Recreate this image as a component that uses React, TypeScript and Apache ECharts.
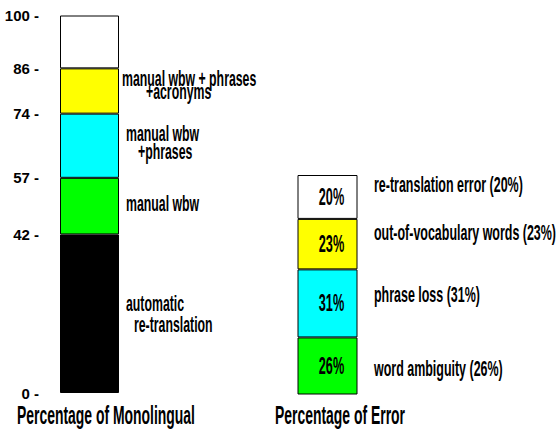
import React, { useEffect, useRef } from "react";
import * as echarts from "echarts";

// Left bar: Percentage of Monolingual (stacked from bottom)
const monoNames = [
  "automatic re-translation",
  "manual wbw",
  "manual wbw +phrases",
  "manual wbw + phrases +acronyms",
  "rest",
];
const monoValues = [42, 15, 17, 12, 14];
const monoColors = ["#000000", "#00ff00", "#00ffff", "#ffff00", "#ffffff"];
const monoTicks = [0, 42, 57, 74, 86, 100];

// Right bar: Percentage of Error (stacked from bottom)
const errorNames = [
  "word ambiguity",
  "phrase loss",
  "out-of-vocabulary words",
  "re-translation error",
];
const errorValues = [26, 31, 23, 20];
const errorColors = ["#00ff00", "#00ffff", "#ffff00", "#ffffff"];

const FONT = "'Liberation Sans', Arial, sans-serif";
const SX = 0.82;
const SY = 1.5;

function txt(text: string, x: number, y: number, size = 15, align = "left") {
  return {
    type: "text",
    x,
    y,
    z: 100,
    scaleX: SX,
    scaleY: SY,
    style: {
      text,
      fill: "#000",
      fontFamily: FONT,
      fontWeight: "bold",
      fontSize: size,
      align,
      verticalAlign: "middle",
    },
  };
}

export default function App() {
  const ref = useRef<HTMLDivElement>(null);
  useEffect(() => {
    document.body.style.margin = "0";
    if (!ref.current) return;
    const chart = echarts.init(ref.current, undefined, { renderer: "svg" });
    const series: any[] = [];
    monoValues.forEach((v, i) => {
      series.push({
        type: "bar",
        name: monoNames[i],
        stack: "mono",
        xAxisIndex: 0,
        yAxisIndex: 0,
        barWidth: "100%",
        data: [v],
        itemStyle: { color: monoColors[i], borderColor: "#000", borderWidth: 1 },
      });
    });
    errorValues.forEach((v, i) => {
      series.push({
        type: "bar",
        name: errorNames[i],
        stack: "err",
        xAxisIndex: 1,
        yAxisIndex: 1,
        barWidth: "100%",
        data: [v],
        itemStyle: { color: errorColors[i], borderColor: "#000", borderWidth: 1 },
      });
    });
    const staticTexts = [
      txt("manual wbw + phrases", 122, 78.5),
      txt("+acronyms", 146, 91.5),
      txt("manual wbw", 126, 133.5),
      txt("+phrases", 138, 152),
      txt("manual wbw", 126, 204),
      txt("automatic", 126, 303.5),
      txt("re-translation", 134, 325),
      txt("re-translation error (20%)", 374, 184, 15.2),
      txt("out-of-vocabulary words (23%)", 374, 232, 15.2),
      txt("phrase loss (31%)", 374, 294, 15.2),
      txt("word ambiguity (26%)", 374, 368, 15.2),
      txt("Percentage of Monolingual", 17, 415, 17),
      txt("Percentage of Error", 275, 415, 17),
    ];
    const baseOption: any = {
      animation: false,
      grid: [
        { left: 60, top: 15.5, width: 59, height: 377.5 },
        { left: 297.5, top: 175, width: 60, height: 219.5 },
      ],
      xAxis: [
        { type: "category", gridIndex: 0, data: [""], show: false },
        { type: "category", gridIndex: 1, data: [""], show: false },
      ],
      yAxis: [
        {
          type: "value",
          gridIndex: 0,
          min: 0,
          max: 100,
          axisLine: { show: false },
          axisTick: { show: false },
          splitLine: { show: false },
          axisLabel: {
            customValues: monoTicks,
            formatter: (v: number) => `${v} -`,
            margin: 21,
            color: "#000",
            fontFamily: FONT,
            fontWeight: "bold",
            fontSize: 15,
          },
        },
        { type: "value", gridIndex: 1, min: 0, max: 100, show: false },
      ],
      series,
    };
    chart.setOption(baseOption);
    // value labels inside the error bar, placed at each segment's centre via the axis scale
    const valueTexts: any[] = [];
    let cum = 0;
    errorValues.forEach((v, i) => {
      const p = chart.convertToPixel(
        { seriesIndex: monoValues.length + i } as any,
        [0, cum + v / 2]
      ) as any;
      if (p && isFinite(p[0]) && isFinite(p[1])) {
        valueTexts.push(txt(`${v}%`, p[0] + 4, p[1], 15.5, "center"));
      }
      cum += v;
    });
    chart.setOption({ graphic: [...staticTexts, ...valueTexts] });
    return () => chart.dispose();
  }, []);
  return <div ref={ref} style={{ width: 560, height: 431 }} />;
}
